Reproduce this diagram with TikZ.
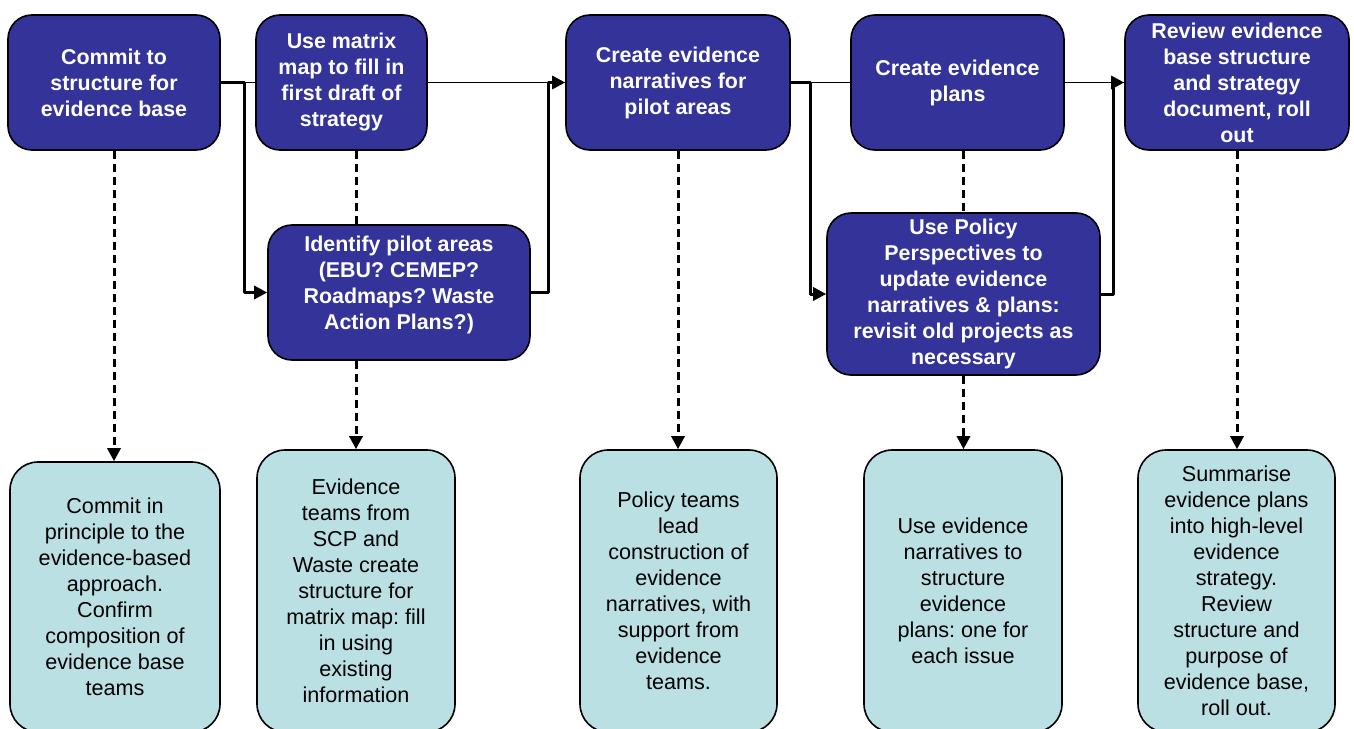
\documentclass[tikz,border=0pt]{standalone}
\usepackage{fontspec}
\setmainfont{Liberation Sans}
\usetikzlibrary{arrows.meta}
\definecolor{stepblue}{RGB}{51,51,153}
\definecolor{notecyan}{RGB}{186,224,228}
\frenchspacing
\begin{document}
\begin{tikzpicture}[x=0.5pt, y=-0.5pt, line join=round, >={Triangle[length=6.5pt,width=6.5pt]},
		stepbox/.style={draw, line width=0.8pt, fill=stepblue, rounded corners=12pt, text=white, align=center, inner sep=0pt, font=\bfseries\fontsize{10.7}{13}\selectfont},
		notebox/.style={draw, line width=0.8pt, fill=notecyan, rounded corners=14pt, align=center, inner sep=0pt, font=\fontsize{10.8}{13}\selectfont},
		flow/.style={line width=1.5pt},
		link/.style={line width=0.5pt},
		note/.style={line width=1.5pt, dash pattern=on 4pt off 2.5pt}]
	\useasboundingbox (0,0) rectangle (1354,728);
	\clip (0,0) rectangle (1354,728);
	% main steps
	\node[stepbox, minimum width=106pt, minimum height=67.5pt] (b1) at (114,82.5) {Commit to\\structure for\\evidence base};
	\node[stepbox, minimum width=85.5pt, minimum height=67.5pt] (b2) at (341.5,82.5) {Use matrix\\map to fill in\\first draft of\\strategy};
	\node[stepbox, minimum width=112pt, minimum height=67.5pt] (b3) at (678,82.5) {Create evidence\\narratives for\\pilot areas};
	\node[stepbox, minimum width=106.5pt, minimum height=67.5pt] (b4) at (957.5,82.5) {Create evidence\\plans};
	\node[stepbox, minimum width=112pt, minimum height=67.5pt] (b5) at (1237,82.5) {Review evidence\\base structure\\and strategy\\document, roll\\out};
	\node[stepbox, minimum width=131pt, minimum height=67.5pt] (m1) at (399,292.5) {Identify pilot areas\\(EBU? CEMEP?\\Roadmaps? Waste\\Action Plans?)\\[-3pt]\mbox{}};
	\node[stepbox, minimum width=136.5pt, minimum height=81pt] (m2) at (963.5,294) {Use Policy\\Perspectives to\\update evidence\\narratives \& plans:\\revisit old projects as\\necessary};
	% notes
	\node[notebox, minimum width=105pt, minimum height=135pt] (c1) at (115,597) {Commit in\\principle to the\\evidence-based\\approach.\\Confirm\\composition of\\evidence base\\teams};
	\node[notebox, minimum width=99pt, minimum height=141pt] (c2) at (356,591) {Evidence\\teams from\\SCP and\\Waste create\\structure for\\matrix map: fill\\in using\\existing\\information};
	\node[notebox, minimum width=98.5pt, minimum height=141pt] (c3) at (678.5,591) {Policy teams\\lead\\construction of\\evidence\\narratives, with\\support from\\evidence\\teams.};
	\node[notebox, minimum width=99pt, minimum height=141pt] (c4) at (963,591) {Use evidence\\narratives to\\structure\\evidence\\plans: one for\\each issue};
	\node[notebox, minimum width=98.5pt, minimum height=141pt] (c5) at (1236.5,591) {Summarise\\evidence plans\\into high-level\\evidence\\strategy.\\Review\\structure and\\purpose of\\evidence base,\\roll out.};
	% flow
	\draw[link] (b1.east) -- (b2.west);
	\draw[link] (b2.east) -- (b3.west);
	\draw[link] (b3.east) -- (b4.west);
	\draw[link] (b4.east) -- (b5.west);
	\draw[flow, ->] (b1.east) -- ++(24,0) |- (m1.west);
	\draw[flow, ->] (m1.east) -- ++(18,0) |- (b3.west);
	\draw[flow, ->] (b3.east) -- ++(20,0) |- (m2.west);
	\draw[flow, ->] (m2.east) -- ++(13,0) |- (b5.west);
	% dashed
	\draw[note, ->] (b1.south) -- (c1.north -| b1.south);
	\draw[note] (b2.south -| c2.north) -- (m1.north -| c2.north);
	\draw[note, ->] (m1.south -| c2.north) -- (c2.north);
	\draw[note, ->] (b3.south) -- (c3.north -| b3.south);
	\draw[note] (b4.south -| m2.north) -- (m2.north);
	\draw[note, ->] (m2.south) -- (c4.north -| m2.south);
	\draw[note, ->] (b5.south) -- (c5.north -| b5.south);
\end{tikzpicture}
\end{document}
